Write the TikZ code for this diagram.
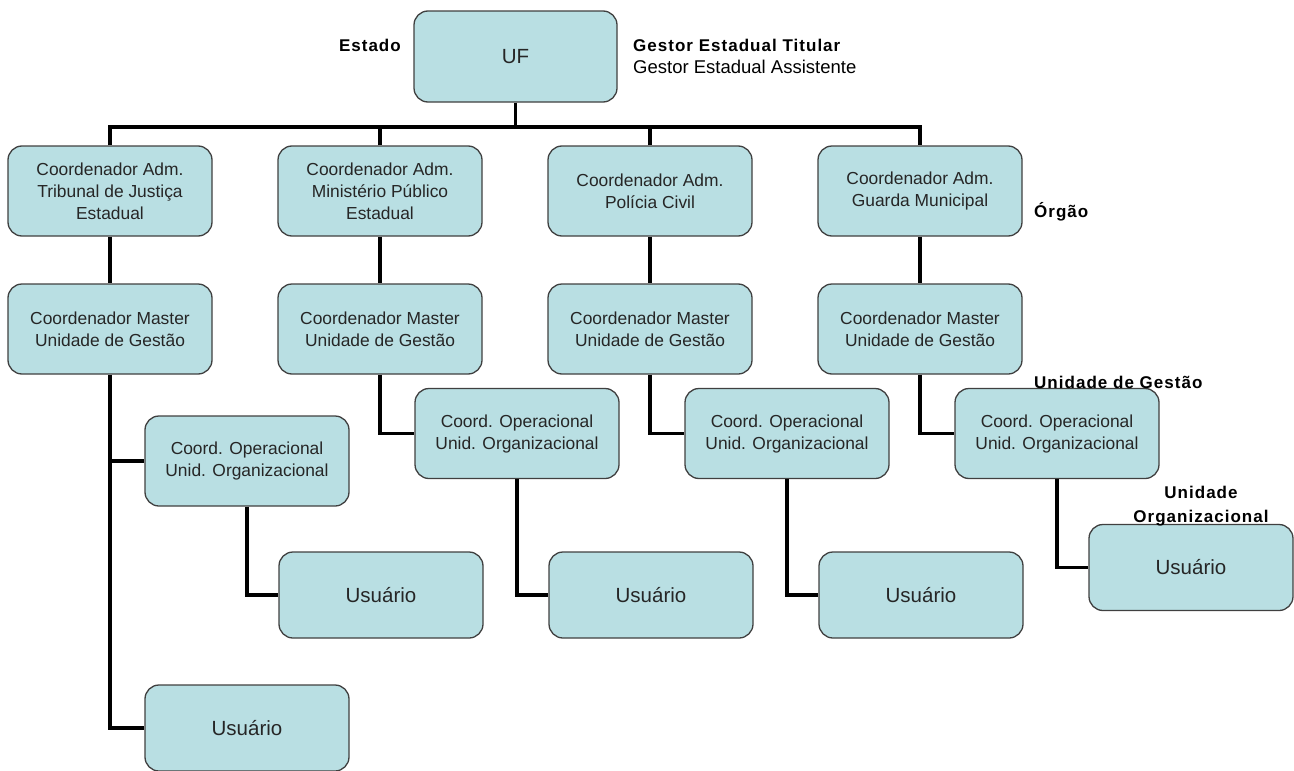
\documentclass[tikz,border=0pt]{standalone}
\usepackage{fontspec}
\setmainfont{Liberation Sans}
\newfontfamily\lblfont[LetterSpace=6]{Liberation Sans}
\begin{document}
\begin{tikzpicture}[x=1pt,y=-1pt,
  box/.style={draw=black!75,line width=1.3pt,fill=boxfill,rounded corners=14pt,
    minimum width=204pt,minimum height=90pt,align=center,inner sep=0pt,
    font=\fontsize{17.4}{22}\selectfont,text=black!85},
  big/.style={font=\fontsize{20.5}{24}\selectfont},
  conn/.style={line width=3.6pt,black},
  lbl/.style={font=\lblfont\bfseries\fontsize{17}{24}\selectfont,align=center,inner sep=0pt}]
\definecolor{boxfill}{HTML}{B9DFE3}
\useasboundingbox (0,0) rectangle (1294,771);
% nodes
\node[box,big,minimum width=203pt,minimum height=91pt] (uf) at (515.5,56.5) {UF};
\node[box] (a1) at (110,191) {Coordenador Adm.\\Tribunal de Justiça\\Estadual};
\node[box] (a2) at (380,191) {Coordenador Adm.\\Ministério Público\\Estadual};
\node[box] (a3) at (650,191) {Coordenador Adm.\\Polícia Civil};
\node[box] (a4) at (920,191) {Coordenador Adm.\\Guarda Municipal};
\node[box] (m1) at (110,329) {Coordenador Master\\Unidade de Gestão};
\node[box] (m2) at (380,329) {Coordenador Master\\Unidade de Gestão};
\node[box] (m3) at (650,329) {Coordenador Master\\Unidade de Gestão};
\node[box] (m4) at (920,329) {Coordenador Master\\Unidade de Gestão};
\node[box] (o1) at (247,461) {Coord. Operacional\\Unid. Organizacional};
\node[box] (o2) at (517,433.5) {Coord. Operacional\\Unid. Organizacional};
\node[box] (o3) at (787,433.5) {Coord. Operacional\\Unid. Organizacional};
\node[box] (o4) at (1057,433.5) {Coord. Operacional\\Unid. Organizacional};
\node[box,big,minimum height=86pt] (u1) at (381,595) {Usuário};
\node[box,big,minimum height=86pt] (u2) at (651,595) {Usuário};
\node[box,big,minimum height=86pt] (u3) at (921,595) {Usuário};
\node[box,big,minimum height=86pt] (u4) at (1191,567.5) {Usuário};
\node[box,big,minimum height=86pt] (u0) at (247,728) {Usuário};
% labels
\node[lbl,anchor=east] (lest) at (401,45) {Estado};
\node[lbl,anchor=west] (lgt) at (633,45) {Gestor Estadual Titular};
\node[lbl,anchor=west,font=\fontsize{18.5}{22}\selectfont] (lga) at (633,67) {Gestor Estadual Assistente};
\node[lbl,anchor=west] (lorg) at (1034,212) {Órgão};
\node[lbl,anchor=west] (lug) at (1034,382) {Unidade de Gestão};
\node[lbl] (luo) at (1201,506) {Unidade\\Organizacional};
% connectors
\coordinate (bus) at (515.5,127);
\draw[conn] (uf.south) -- (bus);
\draw[conn] (a1.north) |- (bus) -| (a4.north);
\draw[conn] (a2.north) -- (a2.north |- bus);
\draw[conn] (a3.north) -- (a3.north |- bus);
\draw[conn] (a1) -- (m1);
\draw[conn] (a2) -- (m2);
\draw[conn] (a3) -- (m3);
\draw[conn] (a4) -- (m4);
\draw[conn] (m1.south) |- (u0.west);
\draw[conn] (m1.south |- o1.west) -- (o1.west);
\draw[conn] (m2.south) |- (o2.west);
\draw[conn] (m3.south) |- (o3.west);
\draw[conn] (m4.south) |- (o4.west);
\draw[conn] (o1.south) |- (u1.west);
\draw[conn] (o2.south) |- (u2.west);
\draw[conn] (o3.south) |- (u3.west);
\draw[conn] (o4.south) |- (u4.west);
\end{tikzpicture}
\end{document}
